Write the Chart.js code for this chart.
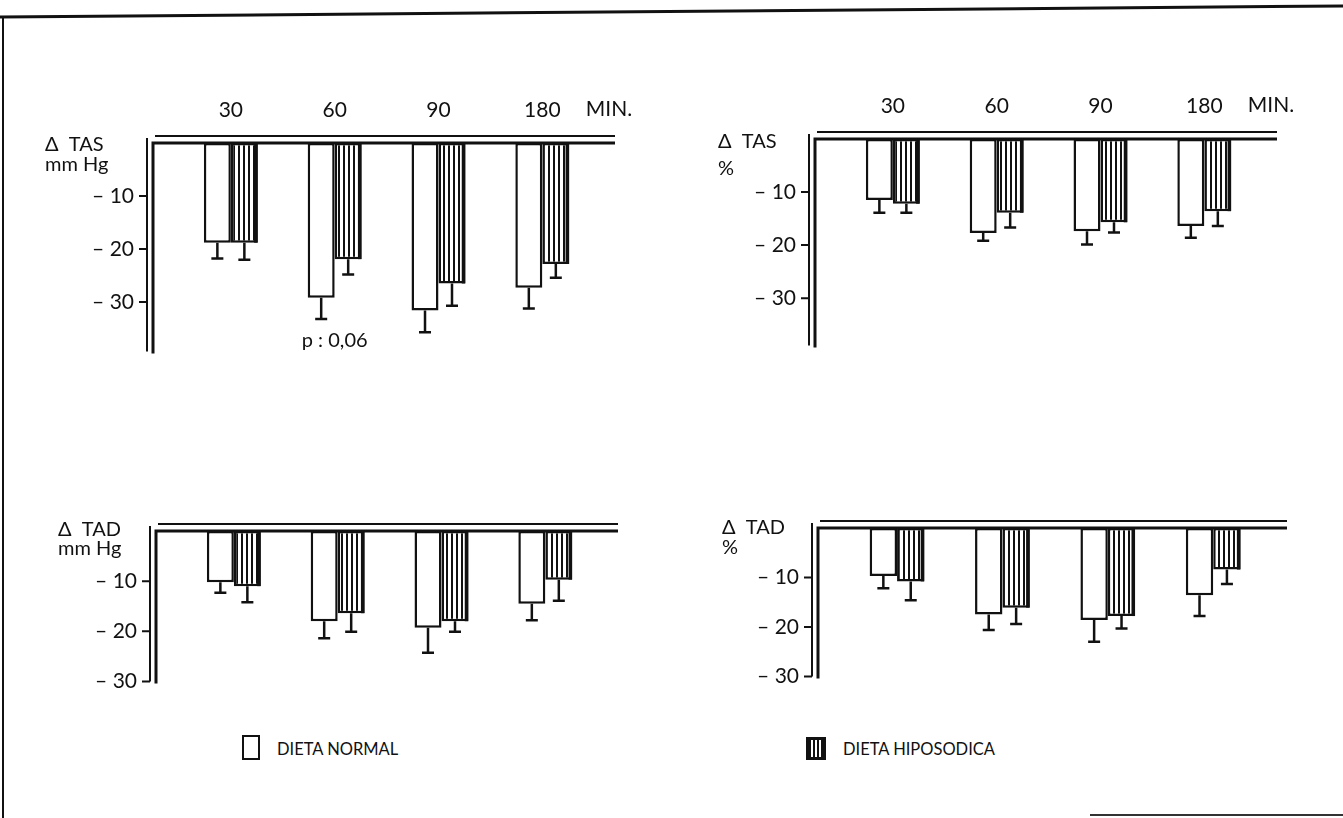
<!DOCTYPE html>
<html>
<head>
<meta charset="utf-8">
<script src="https://cdn.jsdelivr.net/npm/chart.js@4.4.0/dist/chart.umd.min.js"></script>
<style>
html, body { margin: 0; padding: 0; background: #fff; }
body { width: 1343px; height: 818px; position: relative; overflow: hidden; font-family: Lato, "Open Sans", sans-serif; color: #111; }
.panel { position: absolute; }
.frame-left { position: absolute; left: 2px; top: 16px; width: 2px; height: 802px; background: #111; }
.frame-top { position: absolute; left: 0; top: 10px; width: 1345px; height: 3px; background: #111; transform: rotate(-0.47deg); }
.frame-bottom { position: absolute; left: 1090px; top: 814px; width: 253px; height: 2px; background: #333; }
.legend { position: absolute; font-size: 16.5px; }
.legend .box { position: absolute; border: 2.5px solid #111; box-sizing: border-box; background: #fff; }
.legend .box.hipo { background: repeating-linear-gradient(90deg, #111 0 2.5px, #fff 2.5px 4px); border-width: 3px; }
.legend span { position: absolute; white-space: nowrap; line-height: 20px; }
</style>
</head>
<body>
<div class="frame-left"></div>
<div class="frame-top"></div>
<div class="frame-bottom"></div>

<div class="panel" style="left:38px;top:93px;"><canvas id="tasMm" width="607" height="290"></canvas></div>
<div class="panel" style="left:700px;top:89px;"><canvas id="tasPct" width="607" height="288"></canvas></div>
<div class="panel" style="left:41px;top:481px;"><canvas id="tadMm" width="607" height="232"></canvas></div>
<div class="panel" style="left:703px;top:478px;"><canvas id="tadPct" width="614" height="230"></canvas></div>

<div class="legend">
  <div class="box" style="left:242px;top:735px;width:18px;height:25px;"></div>
  <span style="left:277px;top:739px;">DIETA NORMAL</span>
  <div class="box hipo" style="left:806px;top:737px;width:20px;height:23px;"></div>
  <span style="left:843px;top:739px;">DIETA HIPOSODICA</span>
</div>

<script>
// categorías (minutos) y ticks del eje Y
const categories = ['30', '60', '90', '180'];
const yTicks = [-10, -20, -30];

// Δ TAS mm Hg
const tasMmNormal = [-18.8, -29.2, -31.6, -27.3];
const tasMmNormalErr = [3.0, 4.0, 4.1, 3.9];
const tasMmHipo = [-18.8, -21.9, -26.5, -22.8];
const tasMmHipoErr = [3.2, 2.9, 4.2, 2.6];

// Δ TAS %
const tasPctNormal = [-11.5, -17.7, -17.4, -16.4];
const tasPctNormalErr = [2.4, 1.5, 2.5, 2.2];
const tasPctHipo = [-12.2, -13.9, -15.7, -13.6];
const tasPctHipoErr = [1.7, 2.8, 1.9, 2.8];

// Δ TAD mm Hg
const tadMmNormal = [-10.2, -18.0, -19.3, -14.5];
const tadMmNormalErr = [2.1, 3.4, 5.0, 3.3];
const tadMmHipo = [-11.0, -16.4, -18.0, -9.7];
const tadMmHipoErr = [3.2, 3.7, 2.1, 4.2];

// Δ TAD %
const tadPctNormal = [-9.7, -17.5, -18.6, -13.6];
const tadPctNormalErr = [2.5, 3.1, 4.4, 4.2];
const tadPctHipo = [-10.8, -16.1, -17.8, -8.4];
const tadPctHipoErr = [3.8, 3.3, 2.5, 2.9];

const FONT = 'Lato, "Open Sans", sans-serif';
Chart.defaults.font.family = FONT;
Chart.defaults.font.size = 21;
Chart.defaults.color = '#111';

function stripes() {
  const c = document.createElement('canvas');
  c.width = 5; c.height = 10;
  const g = c.getContext('2d');
  g.fillStyle = '#fff'; g.fillRect(0, 0, 5, 10);
  g.fillStyle = '#111'; g.fillRect(0, 0, 2, 10);
  return g.createPattern(c, 'repeat');
}

// marcos dobles, ticks, títulos y barras de error
const deco = {
  id: 'deco',
  afterDatasetsDraw(chart) {
    const ctx = chart.ctx, y = chart.scales.y;
    ctx.save();
    ctx.strokeStyle = '#111';
    ctx.lineWidth = 2.5;
    chart.data.datasets.forEach((ds, i) => {
      chart.getDatasetMeta(i).data.forEach((bar, j) => {
        const yEnd = y.getPixelForValue(ds.data[j].y - ds.errors[j]);
        ctx.beginPath();
        ctx.moveTo(bar.x, bar.y); ctx.lineTo(bar.x, yEnd);
        ctx.moveTo(bar.x - 6, yEnd); ctx.lineTo(bar.x + 6, yEnd);
        ctx.stroke();
      });
      // borde derecho más grueso en las barras rayadas
      if (i === 1) {
        ctx.lineWidth = 3.5;
        chart.getDatasetMeta(i).data.forEach(bar => {
          const xr = bar.x + bar.width / 2 - 2;
          ctx.beginPath(); ctx.moveTo(xr, bar.base); ctx.lineTo(xr, bar.y); ctx.stroke();
        });
        ctx.lineWidth = 2.5;
      }
    });
    ctx.restore();
  },
  afterDraw(chart, args, opts) {
    const {ctx, chartArea: a, scales} = chart;
    ctx.save();
    ctx.strokeStyle = '#111';
    ctx.lineWidth = 3;
    ctx.beginPath();
    ctx.moveTo(a.left, a.bottom + 2); ctx.lineTo(a.left, a.top); ctx.lineTo(a.right, a.top);
    ctx.stroke();
    ctx.lineWidth = 2;
    ctx.beginPath();
    ctx.moveTo(a.left - 6, a.bottom); ctx.lineTo(a.left - 6, a.top - 5);
    ctx.moveTo(a.left + 2, a.top - 7); ctx.lineTo(a.right, a.top - 7);
    yTicks.forEach(v => {
      const py = scales.y.getPixelForValue(v);
      ctx.moveTo(a.left - 6, py); ctx.lineTo(a.left - 14, py);
    });
    ctx.stroke();

    ctx.fillStyle = '#111';
    ctx.font = '20px ' + FONT;
    ctx.textBaseline = 'middle';
    ctx.textAlign = 'left';
    opts.title.forEach((t, i) => ctx.fillText(t, a.left - opts.titleDx, a.top + opts.titleDy[i]));
    if (opts.unit) {
      ctx.textAlign = 'center';
      ctx.font = '21px ' + FONT;
      ctx.fillText(opts.unit, a.right - 6, a.top - 34);
    }
    if (opts.note) {
      ctx.textAlign = 'center';
      ctx.font = '20px ' + FONT;
      ctx.fillText(opts.note.text, scales.x.getPixelForValue(opts.note.x), scales.y.getPixelForValue(opts.note.y));
    }
    ctx.restore();
  }
};

function makePanel(id, normal, normalErr, hipo, hipoErr, yMin, showX, decoOpts) {
  const pts = arr => arr.map((v, i) => ({x: i + 1, y: v}));
  new Chart(document.getElementById(id), {
    type: 'bar',
    data: {
      datasets: [
        {label: 'DIETA NORMAL', data: pts(normal), errors: normalErr,
         backgroundColor: '#fff', borderColor: '#111', borderWidth: 2.5, borderSkipped: false},
        {label: 'DIETA HIPOSODICA', data: pts(hipo), errors: hipoErr,
         backgroundColor: stripes(), borderColor: '#111', borderWidth: 2.5, borderSkipped: false}
      ]
    },
    options: {
      responsive: false,
      animation: false,
      categoryPercentage: 0.52,
      barPercentage: 1,
      layout: {padding: {right: 30, bottom: 20, top: 0, left: 0}},
      plugins: {legend: {display: false}, tooltip: {enabled: false}, deco: decoOpts},
      scales: {
        x: {
          type: 'linear', position: 'top', min: 0.25, max: 4.7, offset: false,
          grid: {display: false, drawTicks: false}, border: {display: false},
          afterBuildTicks: s => { s.ticks = categories.map((c, i) => ({value: i + 1})); },
          afterFit: s => { s.height = 50; },
          ticks: {display: showX, padding: 20, maxRotation: 0, autoSkip: false,
                  callback: (v, i) => categories[i]}
        },
        y: {
          min: yMin, max: 0,
          grid: {display: false, drawTicks: false}, border: {display: false},
          afterBuildTicks: s => { s.ticks = yTicks.map(v => ({value: v})); },
          afterFit: s => { s.width = 115; },
          ticks: {padding: 19, callback: v => '\u2013 ' + Math.abs(v)}
        }
      }
    },
    plugins: [deco]
  });
}

makePanel('tasMm', tasMmNormal, tasMmNormalErr, tasMmHipo, tasMmHipoErr, -39.3, true,
  {title: ['\u0394  TAS', 'mm Hg'], titleDx: 108, titleDy: [2, 22], unit: 'MIN.',
   note: {text: 'p : 0,06', x: 2, y: -37.3}});
makePanel('tasPct', tasPctNormal, tasPctNormalErr, tasPctHipo, tasPctHipoErr, -38.9, true,
  {title: ['\u0394  TAS', '%'], titleDx: 97, titleDy: [3, 30], unit: 'MIN.'});
makePanel('tadMm', tadMmNormal, tadMmNormalErr, tadMmHipo, tadMmHipoErr, -30, false,
  {title: ['\u0394  TAD', 'mm Hg'], titleDx: 98, titleDy: [-1, 18]});
makePanel('tadPct', tadPctNormal, tadPctNormalErr, tadPctHipo, tadPctHipoErr, -30, false,
  {title: ['\u0394  TAD', '%'], titleDx: 96, titleDy: [0, 20]});
</script>
</body>
</html>
